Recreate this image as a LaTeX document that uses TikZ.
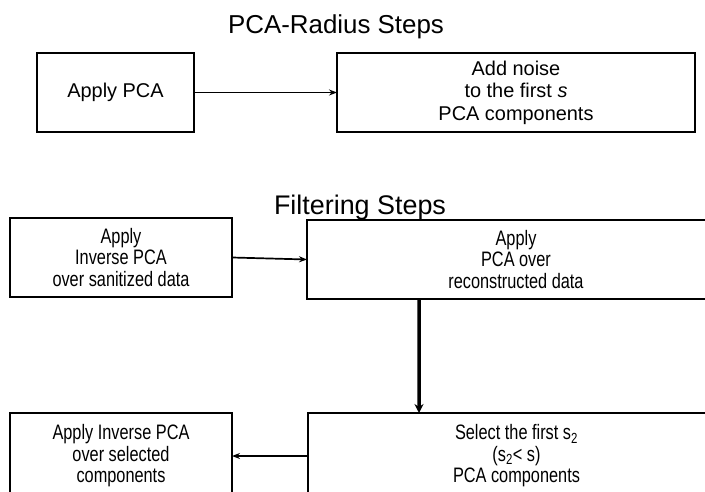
\documentclass[tikz,border=0pt]{standalone}
\usepackage{fontspec}
\setmainfont{Liberation Sans}
\newfontfamily\narrowsans[FakeStretch=0.78]{Liberation Sans}
\usetikzlibrary{arrows.meta,positioning,calc}
\tikzset{steps layout/.style={%
    x=1bp,%
    y=-1bp,%
    every node/.style={%
        inner sep=0pt, outer sep=0pt%
    }%
}}
\tikzset{stepbox/.style={%
    draw, line width=1.5bp, align=center,%
    font=\fontsize{20}{22.5}\selectfont%
}}
\tikzset{filterbox/.style={%
    stepbox, font=\narrowsans\fontsize{21}{21.5}\selectfont%
}}
\tikzset{steptitle/.style={%
    font=\fontsize{26}{30}\selectfont%
}}
\tikzset{steparrow/.style={%
    line width=1.7bp, -{Stealth[length=8bp,width=6bp]}%
}}
\tikzset{bigarrow/.style={%
    line width=3.5bp, -{Stealth[length=9bp,width=9bp]}%
}}

\begin{document}
\begin{tikzpicture}[steps layout]
    \clip (0,0) rectangle (705,492);

    % PCA-Radius part
    \node[steptitle] (title1) at (336,27) {PCA-Radius Steps};
    \node[stepbox, minimum width=157bp, minimum height=79bp] (pca) at (115.5,92.5) {Apply PCA};
    \node[stepbox, minimum width=358bp, minimum height=79bp] (noise) at (516,92.5) {Add noise\\to the first \textit{s}\\PCA components};
    \draw[steparrow] (pca.east) -- (noise.west);

    % Filtering part
    \node[steptitle, font=\fontsize{27}{30}\selectfont] (title2) at (360,208) {Filtering Steps};
    \node[filterbox, minimum width=222bp, minimum height=79bp] (inverse) at (121,257.5) {Apply\\Inverse PCA\\over sanitized data};
    \node[filterbox, minimum width=418bp, minimum height=79bp] (recon) at (516,259.5) {Apply\\PCA over\\reconstructed data};
    \node[filterbox, minimum width=417bp, minimum height=86bp] (select) at (516.5,456) {Select the first s\textsubscript{2}\\(s\textsubscript{2}< s)\\PCA components};
    \node[filterbox, minimum width=222bp, minimum height=86bp] (final) at (121,456) {Apply Inverse PCA\\over selected\\components};

    \draw[steparrow] (inverse.east) -- (recon.west);
    \draw[bigarrow] ([xshift=-97bp]recon.south) -- ([xshift=-97.5bp]select.north);
    \draw[steparrow] (select.west) -- (final.east);
\end{tikzpicture}
\end{document}
